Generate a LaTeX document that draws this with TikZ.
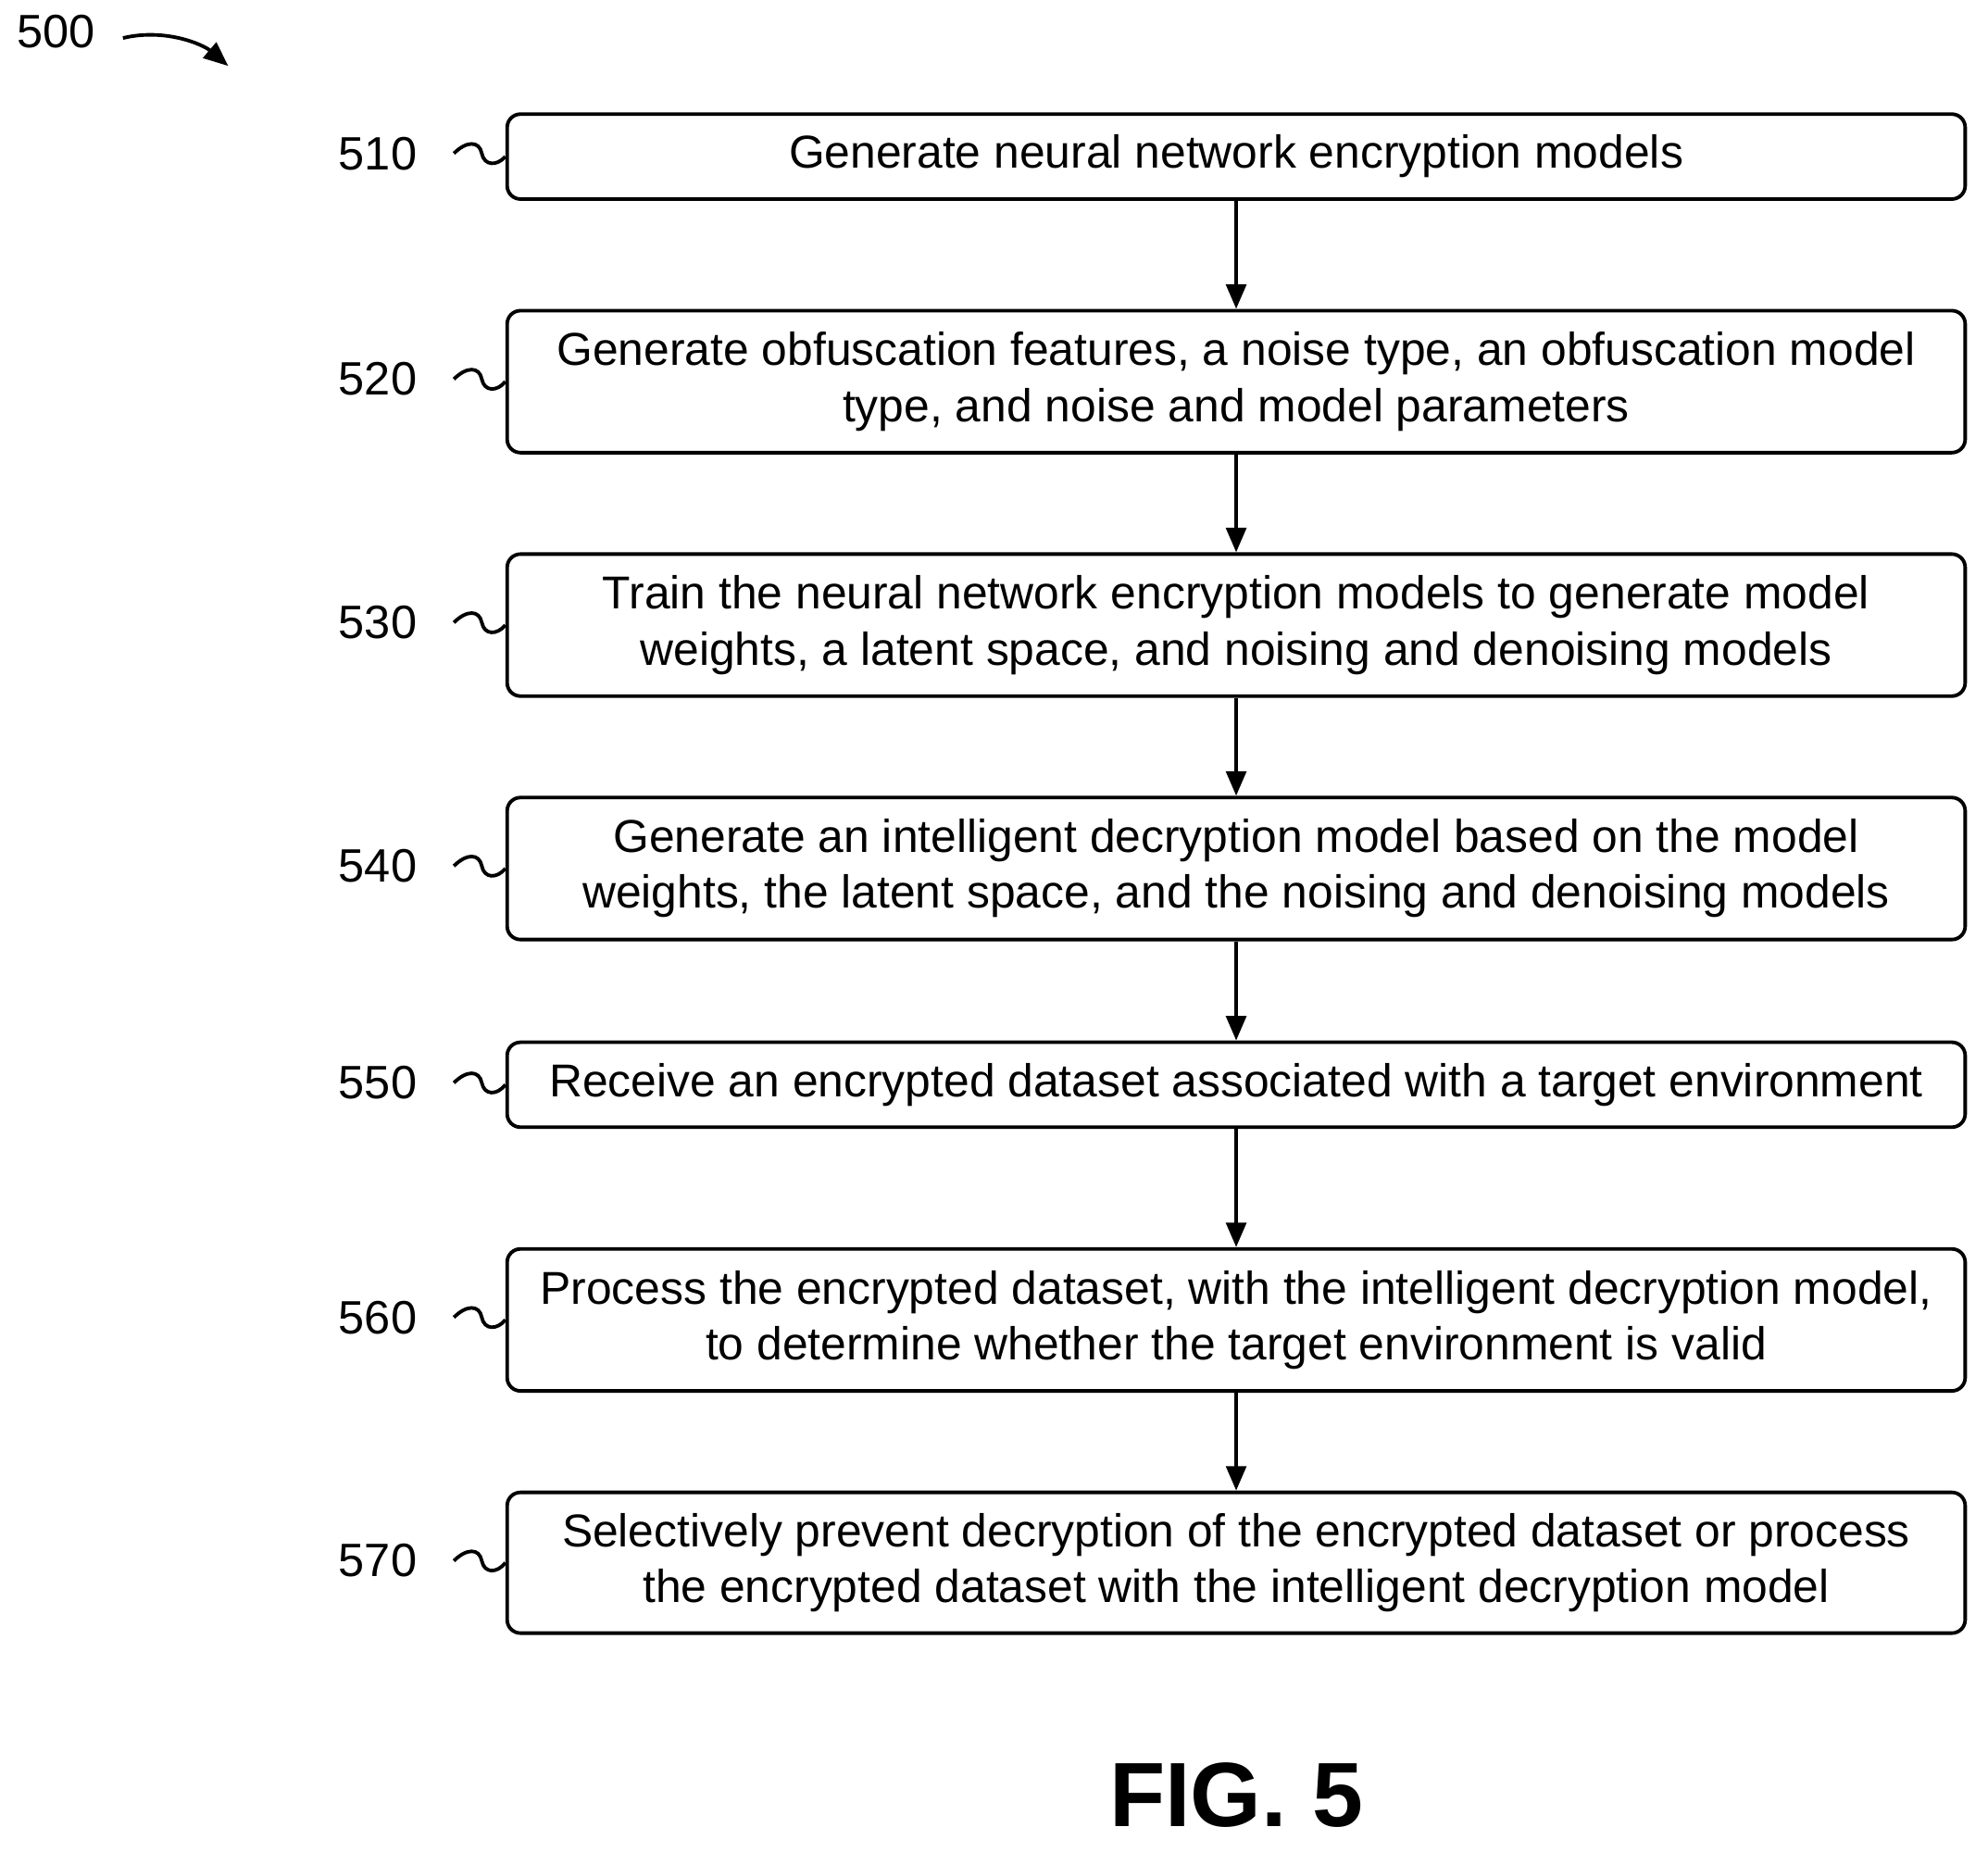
\documentclass[tikz,border=0pt]{standalone}
\usepackage{fontspec}
\setmainfont{Liberation Sans}
\usetikzlibrary{arrows.meta}
\begin{document}
\begin{tikzpicture}[x=0.02cm,y=-0.02cm,
 box/.style={draw,line width=1.6pt,rounded corners=6pt,minimum width=1150*0.02cm,align=center,font=\fontsize{20.7}{25}\selectfont,inner sep=0pt},
 lab/.style={font=\fontsize{21}{24}\selectfont},
 arr/.style={-{Triangle[length=11pt,width=9pt]},line width=1.6pt},
 sq/.style={line width=1.6pt}]
\useasboundingbox (0,0) rectangle (1568,1460);
\def\mk#1#2#3#4#5{%
 \node[box,minimum height=#4*0.02cm] (b#1) at (975,#2) {#5};
 \node[lab] (l#1) at (298,#3) {#1};
 \draw[sq] (358,#3) .. controls (368,#3-10) and (378,#3-10) .. (380,#3) .. controls (382,#3+10) and (392,#3+10) .. (b#1.west);
}
\mk{510}{123.5}{121}{67}{Generate neural network encryption models}
\mk{520}{301}{299}{112}{Generate obfuscation features, a noise type, an obfuscation model\\type, and noise and model parameters}
\mk{530}{493}{491}{112}{Train the neural network encryption models to generate model\\weights, a latent space, and noising and denoising models}
\mk{540}{685}{683}{112}{Generate an intelligent decryption model based on the model\\weights, the latent space, and the noising and denoising models}
\mk{550}{855.5}{854}{67}{Receive an encrypted dataset associated with a target environment}
\mk{560}{1041}{1039}{112}{Process the encrypted dataset, with the intelligent decryption model,\\to determine whether the target environment is valid}
\mk{570}{1232.5}{1231}{111}{Selectively prevent decryption of the encrypted dataset or process\\the encrypted dataset with the intelligent decryption model}
\draw[arr] (b510) -- (b520);
\draw[arr] (b520) -- (b530);
\draw[arr] (b530) -- (b540);
\draw[arr] (b540) -- (b550);
\draw[arr] (b550) -- (b560);
\draw[arr] (b560) -- (b570);
\node[lab] (n500) at (44,25) {500};
\coordinate (e500) at (180,52);
\draw[-{Triangle[length=11pt,width=9pt]},line width=1.6pt] (97,30) .. controls (130,22) and (160,35) .. (e500);
\node[font=\bfseries\fontsize{41}{46}\selectfont] (fig) at (975,1416) {FIG. 5};
\end{tikzpicture}
\end{document}
